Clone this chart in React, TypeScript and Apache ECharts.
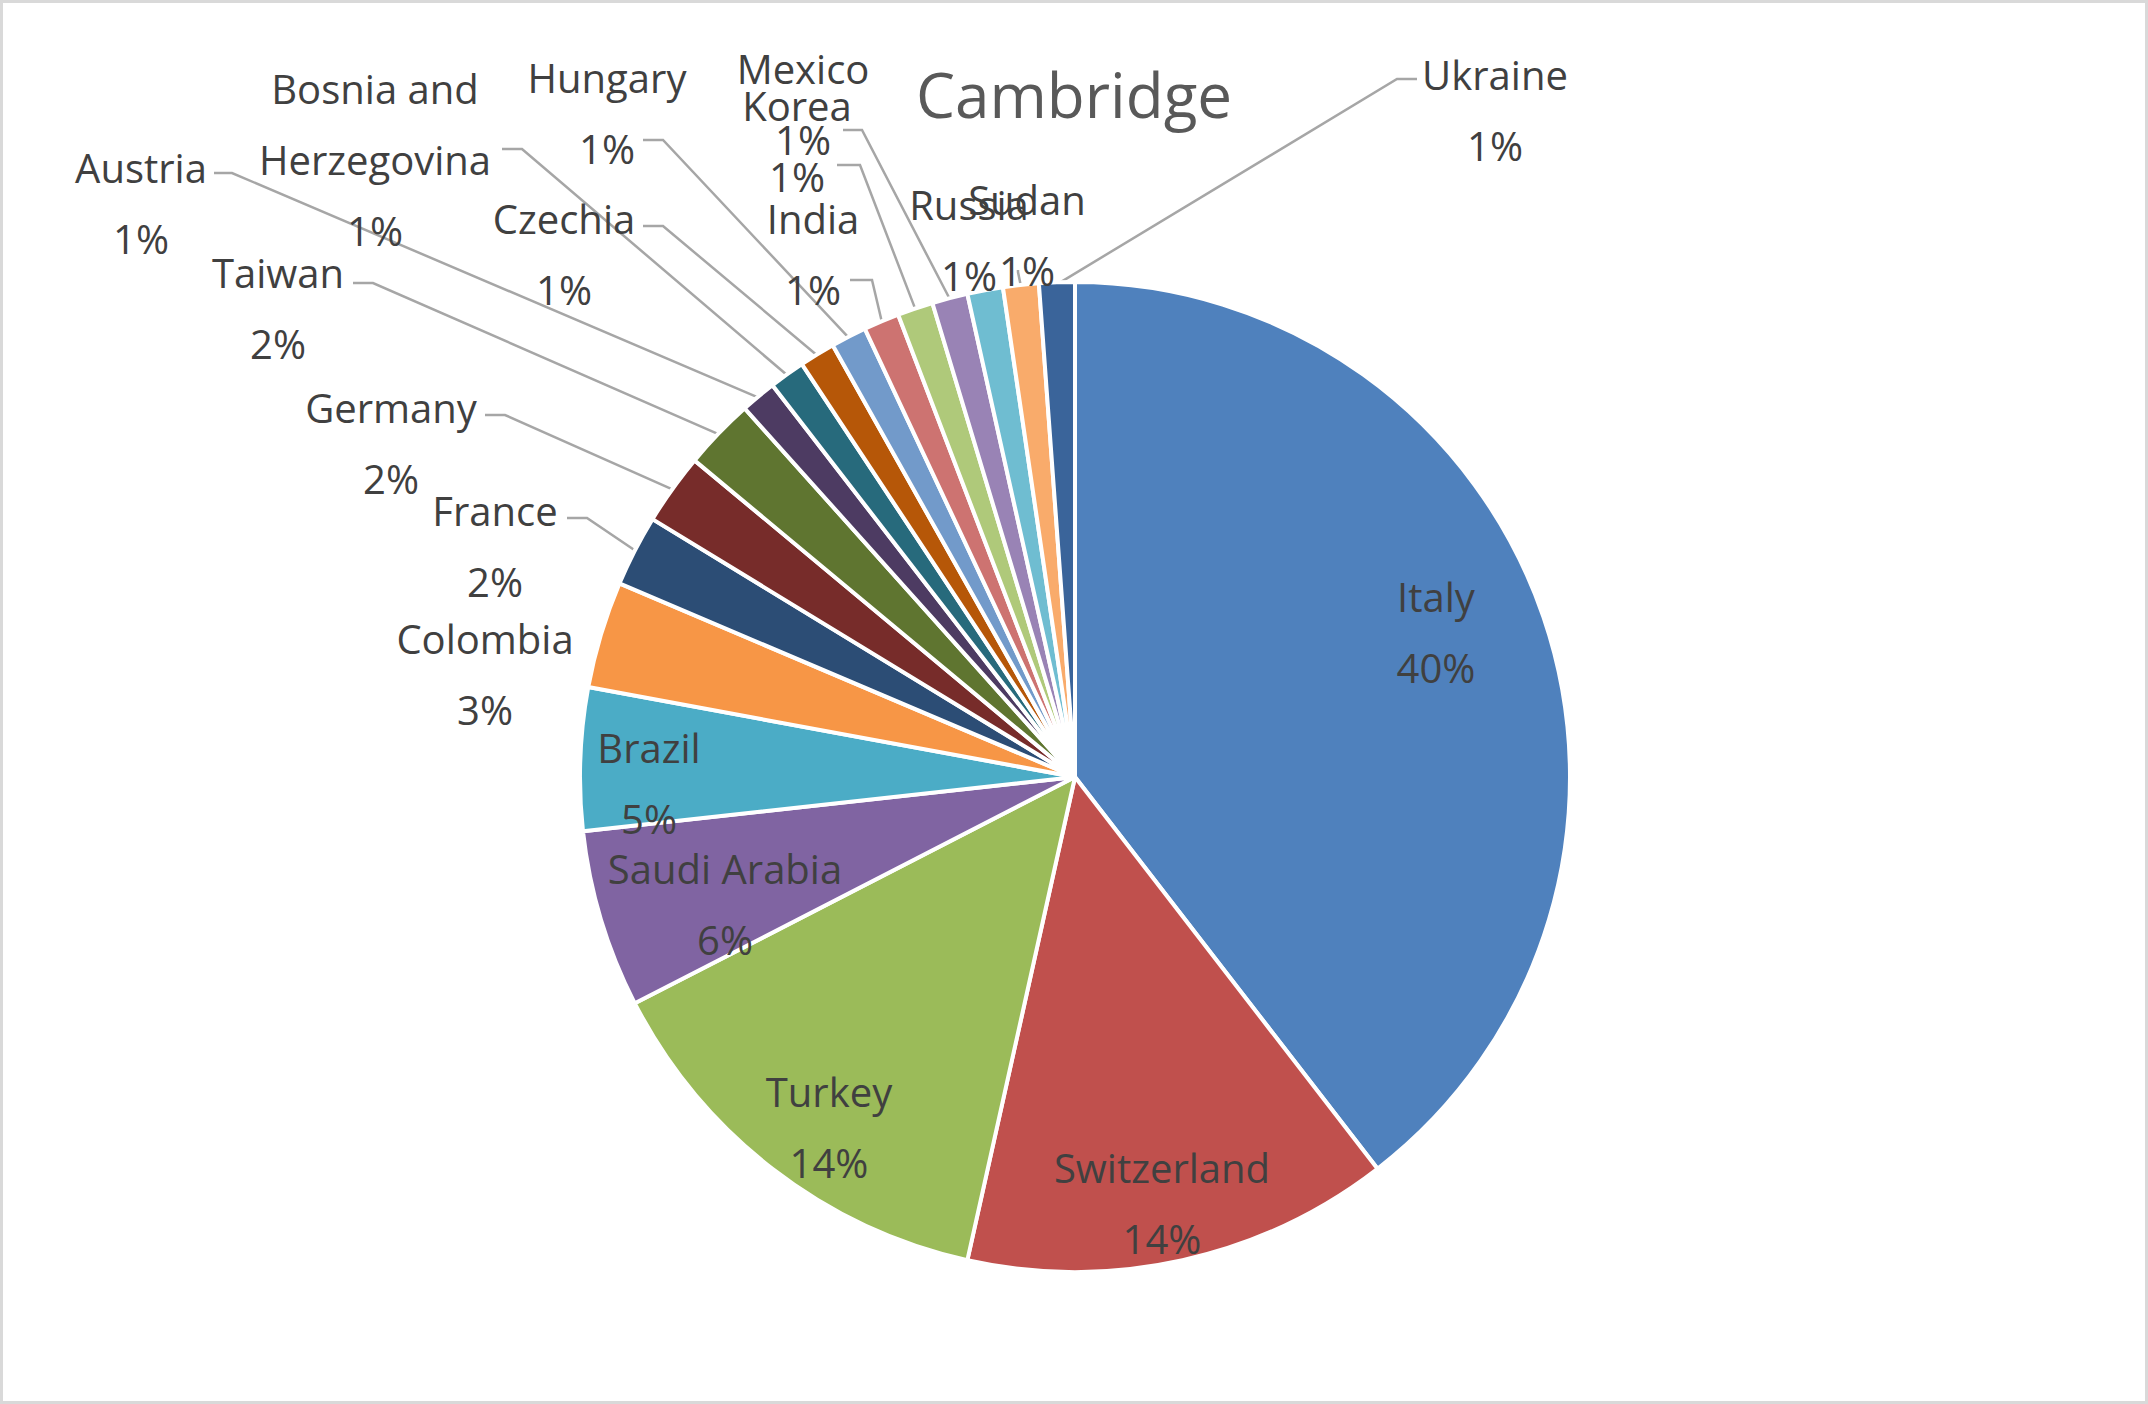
import React, { useEffect, useRef } from "react";
import * as echarts from "echarts";

// ---------- data ----------
const titleText = "Cambridge";
const categories = [
  "Italy", "Switzerland", "Turkey", "Saudi Arabia", "Brazil", "Colombia",
  "France", "Germany", "Taiwan", "Austria", "Bosnia and Herzegovina",
  "Czechia", "Hungary", "India", "Korea", "Mexico", "Russia", "Sudan", "Ukraine",
];
const counts = [34, 12, 12, 5, 4, 3, 2, 2, 2, 1, 1, 1, 1, 1, 1, 1, 1, 1, 1];

// ---------- styles ----------
const colors = [
  "#4F81BD", "#C0504D", "#9BBB59", "#8064A2", "#4BACC6", "#F79646",
  "#2C4D75", "#772C2A", "#5F7530", "#4D3B62", "#276A7C", "#B65708",
  "#729ACA", "#CD7371", "#AFC97A", "#9983B5", "#6FBDD1", "#F9AB6B", "#3A649A",
];
const FONT = "'Open Sans', 'Noto Sans', sans-serif";
const TEXT_COLOR = "#404040";
const LINE_COLOR = "#A6A6A6";

// ---------- layout (pixels) ----------
const CX = 1075;
const CY = 777;
const R = 495;
const insideIdx = [0, 1, 2, 3, 4];
const noLineIdx = [5, 16];
// label block centers
const labelPos: [number, number][] = [
  [1436, 632], [1162, 1203], [829, 1127], [725, 904], [649, 783],
  [485, 674], [495, 546], [391, 443], [278, 308], [141, 203],
  [375, 159], [564, 254], [607, 113], [813, 254], [797, 141],
  [803, 104], [969, 240], [1027, 235], [1495, 110],
];
// leader line elbow + end points (label side)
const leaderPts: ([number, number][] | null)[] = [
  null, null, null, null, null, null,
  [[587, 518], [567, 518]],
  [[505, 415], [485, 415]],
  [[373, 283], [353, 283]],
  [[232, 173], [214, 173]],
  [[522, 149], [502, 149]],
  [[663, 226], [643, 226]],
  [[663, 140], [643, 140]],
  [[872, 280], [850, 280]],
  [[860, 165], [837, 165]],
  [[862, 130], [843, 130]],
  null,
  [[1018, 272], [1018, 270]],
  [[1397, 79], [1417, 79]],
];

const total = counts.reduce((a, b) => a + b, 0);

function midAngle(i: number): number {
  let cum = 0;
  for (let k = 0; k < i; k++) cum += counts[k];
  return ((cum + counts[i] / 2) / total) * Math.PI * 2;
}

function wrap(name: string, max: number): string {
  const words = name.split(" ");
  const lines: string[] = [];
  let cur = "";
  for (const w of words) {
    if (cur && (cur + " " + w).length > max) {
      lines.push(cur);
      cur = w;
    } else {
      cur = cur ? cur + " " + w : w;
    }
  }
  if (cur) lines.push(cur);
  return lines.join("\n");
}

export default function App() {
  const ref = useRef<HTMLDivElement>(null);

  useEffect(() => {
    document.body.style.margin = "0";
    document.body.style.overflow = "hidden";
    if (!ref.current) return;
    const chart = echarts.init(ref.current, undefined, { renderer: "svg" });

    const data = categories.map((name, i) => {
      const inside = insideIdx.includes(i);
      return {
        name,
        value: counts[i],
        itemStyle: { color: colors[i] },
        label: { position: inside ? "inside" : "outside" },
        labelLine: { show: !inside && !noLineIdx.includes(i) },
      };
    });

    chart.setOption({
      animation: false,
      backgroundColor: "#FFFFFF",
      title: {
        text: titleText,
        left: "center",
        top: 63,
        padding: 0,
        textStyle: {
          fontFamily: FONT,
          fontSize: 62,
          fontWeight: "normal",
          color: "#595959",
          lineHeight: 62,
        },
      },
      graphic: [
        {
          type: "rect",
          silent: true,
          shape: { x: 1.5, y: 1.5, width: 2145, height: 1401 },
          style: { fill: "none", stroke: "#D9D9D9", lineWidth: 3 },
        },
      ],
      series: [
        {
          type: "pie",
          center: [CX, CY],
          radius: R,
          startAngle: 90,
          clockwise: true,
          avoidLabelOverlap: false,
          itemStyle: { borderColor: "#FFFFFF", borderWidth: 4 },
          label: {
            show: true,
            fontFamily: FONT,
            fontSize: 40,
            color: TEXT_COLOR,
            lineHeight: 71,
            align: "center",
            formatter: (p: any) => {
              const inside = insideIdx.includes(p.dataIndex);
              const nm = inside ? p.name : wrap(p.name, 11);
              return nm + "\n" + Math.round((p.value / total) * 100) + "%";
            },
          },
          labelLine: {
            show: true,
            lineStyle: { color: LINE_COLOR, width: 2.5 },
            length: 10,
            length2: 10,
          },
          labelLayout: (p: any) => {
            const i = p.dataIndex;
            const [x, y] = labelPos[i];
            const res: any = { x, y, align: "center", verticalAlign: "middle" };
            const lp = leaderPts[i];
            if (lp) {
              const a = midAngle(i);
              const r = R - 2;
              const ax = CX + r * Math.sin(a);
              const ay = CY - r * Math.cos(a);
              res.labelLinePoints = [[ax, ay], ...lp];
            }
            return res;
          },
          data,
        },
      ],
    });

    return () => {
      chart.dispose();
    };
  }, []);

  return <div ref={ref} style={{ width: 2148, height: 1404 }} />;
}
